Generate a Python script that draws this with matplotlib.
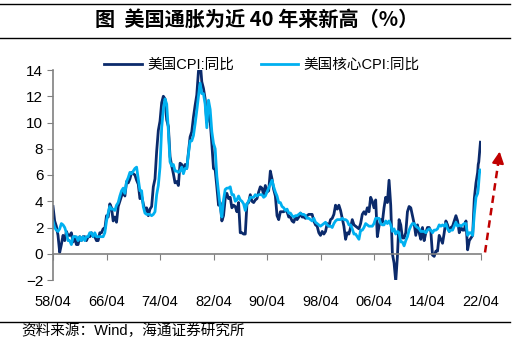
import numpy as np
import pandas as pd
import matplotlib
matplotlib.use('Agg')
import matplotlib.pyplot as plt
from matplotlib.lines import Line2D

plt.rcParams['font.family'] = ['Liberation Sans', 'Noto Sans CJK SC', 'DejaVu Sans']

# ---- data (quarterly Jan/Apr/Jul/Oct from 1958-04 to 2021-10, then monthly to 2022-03) ----
quarter_dates = pd.date_range('1958-04-01', '2021-10-01', freq='QS-JAN')
monthly_dates = pd.to_datetime(['2021-11-01', '2021-12-01', '2022-01-01', '2022-02-01', '2022-03-01'])

cpi_yoy = [
    3.6, 2.5, 2.1,
    1.4, 0.1, 0.7, 1.4,
    1.0, 1.7, 1.4, 1.4,
    1.6, 0.9, 1.3, 0.7,
    0.7, 1.3, 1.0, 1.3,
    1.3, 1.0, 1.3, 1.3,
    1.6, 1.3, 1.3, 1.0,
    1.0, 1.6, 1.6, 1.9,
    1.9, 2.9, 2.8, 3.8,
    3.5, 2.5, 2.8, 2.4,
    3.6, 4.0, 4.4, 4.7,
    4.4, 5.5, 5.4, 5.7,
    6.2, 6.1, 6.0, 5.6,
    5.3, 4.2, 4.4, 3.8,
    3.3, 3.5, 2.9, 3.4,
    3.6, 5.1, 5.7, 7.8,
    9.4, 10.1, 11.5, 12.0,
    11.8, 10.2, 9.7, 7.4,
    6.7, 6.1, 5.4, 5.5,
    5.2, 6.9, 6.8, 6.4,
    6.8, 6.5, 7.7, 8.9,
    9.3, 10.4, 11.3, 12.1,
    13.9, 14.7, 13.1, 12.6,
    11.8, 10.0, 10.8, 10.1,
    8.4, 6.5, 6.4, 5.1,
    3.7, 3.9, 2.5, 2.9,
    4.2, 4.6, 4.2, 4.3,
    3.5, 3.7, 3.6, 3.2,
    3.9, 1.6, 1.6, 1.5,
    1.5, 3.8, 3.9, 4.5,
    4.0, 3.9, 4.1, 4.2,
    4.7, 5.1, 5.0, 4.5,
    5.2, 4.7, 4.8, 6.3,
    5.7, 4.9, 4.4, 2.9,
    2.6, 3.2, 3.2, 3.2,
    3.3, 3.2, 2.8, 2.8,
    2.5, 2.4, 2.8, 2.6,
    2.8, 3.1, 2.8, 2.8,
    2.7, 2.9, 3.0, 3.0,
    3.0, 2.5, 2.2, 2.1,
    1.6, 1.4, 1.7, 1.5,
    1.7, 2.3, 2.1, 2.6,
    2.7, 3.0, 3.7, 3.4,
    3.7, 3.3, 2.7, 2.1,
    1.1, 1.6, 1.5, 2.0,
    2.6, 2.2, 2.1, 2.0,
    1.9, 2.3, 3.0, 3.2,
    3.0, 3.5, 3.2, 4.3,
    4.0, 3.5, 4.1, 1.3,
    2.1, 2.6, 2.4, 3.5,
    4.3, 3.9, 5.6, 3.7,
    0.0, -0.7, -2.1, -0.2,
    2.6, 2.2, 1.2, 1.2,
    1.6, 3.2, 3.6, 3.5,
    2.9, 2.3, 1.4, 2.2,
    1.6, 1.1, 2.0, 1.0,
    1.6, 2.0, 2.0, 1.7,
    -0.1, -0.2, 0.2, 0.2,
    1.4, 1.1, 0.8, 1.6,
    2.5, 2.2, 1.7, 2.0,
    2.1, 2.5, 2.9, 2.5,
    1.6, 2.0, 1.8, 1.8,
    2.5, 0.3, 1.0, 1.2,
    1.4, 4.2, 5.4, 6.2,
    6.8, 7.0, 7.5, 7.9, 8.5,
]

core_yoy = [
    2.5, 2.0, 1.8,
    1.7, 1.9, 2.3, 2.2,
    2.0, 1.6, 1.0, 1.0,
    0.7, 1.3, 1.3, 1.3,
    1.0, 1.3, 1.0, 1.3,
    1.0, 1.3, 1.3, 1.6,
    1.6, 1.3, 1.6, 1.3,
    1.3, 1.3, 1.3, 1.3,
    1.6, 2.5, 3.1, 3.6,
    3.4, 3.4, 3.3, 3.7,
    3.9, 4.4, 4.8, 5.0,
    4.6, 5.5, 5.8, 6.2,
    6.1, 6.3, 6.5, 6.6,
    5.7, 4.8, 4.8, 3.6,
    3.1, 3.0, 3.0, 3.0,
    2.9, 3.0, 3.2, 4.5,
    5.2, 6.6, 9.6, 11.0,
    11.8, 11.4, 9.4, 7.0,
    6.7, 6.8, 6.3, 6.3,
    6.2, 6.3, 6.6, 6.1,
    6.5, 6.5, 7.6, 8.6,
    8.6, 9.0, 9.9, 10.9,
    12.0, 13.0, 12.2, 12.2,
    11.4, 9.6, 11.7, 11.0,
    9.3, 8.4, 8.0, 5.9,
    4.7, 3.6, 2.8, 4.1,
    4.9, 5.0, 5.0, 5.1,
    4.5, 4.5, 4.0, 4.1,
    4.4, 4.1, 4.0, 3.8,
    3.3, 3.8, 4.0, 4.3,
    4.3, 4.3, 4.5, 4.4,
    4.5, 4.5, 4.5, 4.3,
    4.4, 4.7, 5.0, 5.3,
    5.6, 5.1, 4.7, 4.4,
    3.9, 3.9, 3.6, 3.5,
    3.3, 3.4, 3.1, 3.1,
    2.9, 2.8, 2.9, 2.9,
    3.0, 3.1, 3.0, 3.0,
    2.9, 2.7, 2.7, 2.6,
    2.5, 2.7, 2.4, 2.3,
    2.2, 2.1, 2.2, 2.3,
    2.4, 2.2, 2.1, 2.1,
    2.0, 2.3, 2.5, 2.6,
    2.6, 2.6, 2.7, 2.6,
    2.6, 2.5, 2.2, 2.2,
    1.9, 1.5, 1.5, 1.3,
    1.1, 1.8, 1.8, 2.0,
    2.3, 2.2, 2.1, 2.1,
    2.1, 2.3, 2.7, 2.7,
    2.7, 2.3, 2.2, 2.2,
    2.5, 2.3, 2.5, 2.2,
    1.7, 1.9, 1.5, 1.7,
    1.6, 0.9, 0.9, 0.6,
    1.0, 1.3, 1.8, 2.1,
    2.3, 2.3, 2.1, 2.0,
    1.9, 1.7, 1.7, 1.7,
    1.6, 1.8, 1.9, 1.8,
    1.6, 1.8, 1.8, 1.9,
    2.2, 2.1, 2.2, 2.1,
    2.3, 1.9, 1.7, 1.8,
    1.8, 2.1, 2.4, 2.1,
    2.2, 2.1, 2.2, 2.3,
    2.3, 1.4, 1.6, 1.6,
    1.4, 3.0, 4.3, 4.6,
    4.9, 5.5, 6.0, 6.4, 6.3,
]

series_labels = ['美国CPI:同比', '美国核心CPI:同比']
tick_labels = ['58/04', '66/04', '74/04', '82/04', '90/04', '98/04', '06/04', '14/04', '22/04']
y_ticks = [-2, 0, 2, 4, 6, 8, 10, 12, 14]

dates = quarter_dates.append(monthly_dates)
assert len(dates) == len(cpi_yoy) == len(core_yoy)
x = dates.year + (dates.month - 1) / 12.0
tick_pos = [1958.25 + 8 * i for i in range(len(tick_labels))]

# ---- figure ----
fig = plt.figure(figsize=(5.3, 3.54), dpi=100)
ax = fig.add_axes([53 / 530, 1 - 280 / 354, 428 / 530, 210 / 354])

navy = '#0B2A6B'
sky = '#00B0F0'
l1, = ax.plot(x, cpi_yoy, color=navy, lw=2.0, solid_joinstyle='round')
l2, = ax.plot(x, core_yoy, color=sky, lw=2.0, solid_joinstyle='round')

ax.set_xlim(1958.25, 2022.25)
ax.set_ylim(-2, 14)
ax.set_yticks(y_ticks)
ax.set_xticks(tick_pos)
ax.set_xticklabels(tick_labels)

gray = '#808080'
for s in ['top', 'right']:
    ax.spines[s].set_visible(False)
ax.spines['bottom'].set_position(('data', 0))
ax.spines['bottom'].set_color(gray)
ax.spines['left'].set_color(gray)
ax.spines['bottom'].set_linewidth(1.2)
ax.spines['left'].set_linewidth(1.2)
ax.tick_params(axis='y', direction='out', length=4, color=gray, labelsize=11, pad=3)
ax.tick_params(axis='x', direction='out', length=4, color=gray, labelsize=10.5, pad=26)

# legend
fig.legend([l1, l2], series_labels, loc='center', bbox_to_anchor=(262 / 530, 1 - 65 / 354),
           ncol=2, frameon=False, fontsize=10.5, handlelength=2.6, handletextpad=0.35,
           columnspacing=1.8)

# title and rules
fig.text(257 / 530, 1 - 19 / 354, '图  美国通胀为近 40 年来新高（%）', ha='center', va='center',
         fontsize=14.5, fontweight='bold', family=['Noto Sans CJK SC'])
for yy in [4, 38, 322]:
    fig.add_artist(Line2D([0, 510 / 530], [1 - yy / 354] * 2, color='black', lw=1.0))
fig.text(21 / 530, 1 - 331 / 354, '资料来源：Wind，海通证券研究所', ha='left', va='center',
         fontsize=10.5, family=['Liberation Sans', 'Noto Sans CJK SC'])

# red dashed arrow
red = '#C00000'
ax.plot([2022.85, 2024.85], [0.1, 7.0], color=red, lw=1.8, linestyle=(0, (3, 2)), clip_on=False)
ax.annotate('', xy=(2025.1, 8.0), xytext=(2024.8, 6.9),
            arrowprops=dict(arrowstyle='-|>,head_length=0.7,head_width=0.35', color=red, lw=1.5),
            annotation_clip=False)

fig.savefig('out.png', dpi=100)
